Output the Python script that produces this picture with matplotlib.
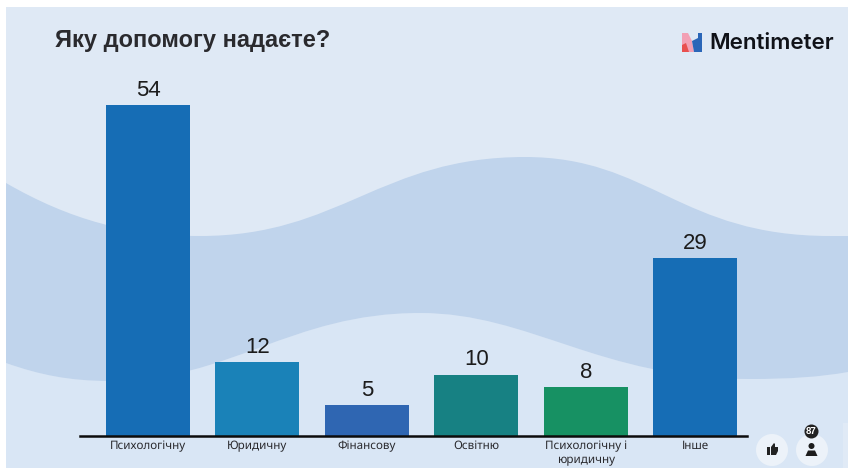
import numpy as np
import matplotlib
matplotlib.use('Agg')
import matplotlib.pyplot as plt
from matplotlib.path import Path
from matplotlib.patches import PathPatch, Polygon, Circle, Rectangle

plt.rcParams['font.family'] = ['Liberation Sans', 'DejaVu Sans']
plt.rcParams['text.hinting'] = 'no_autohint'

title = 'Яку допомогу надаєте?'
categories = ['Психологічну', 'Юридичну', 'Фінансову', 'Освітню', 'Психологічну і\nюридичну', 'Інше']
votes = [54, 12, 5, 10, 8, 29]
bar_colors = ['#166db5', '#1a82b8', '#2f66b2', '#178183', '#179163', '#166db5']
participants = '87'

# wave edges as bezier control points, in pixels
wave_top = [(6, 183), (70, 220), (130, 236), (200, 236), (340, 236), (380, 157), (525, 157),
            (650, 157), (680, 236), (830, 236), (836, 236), (842, 236), (848, 236)]
wave_bottom = [(6, 363), (40, 375), (70, 381), (110, 381), (230, 381), (290, 313), (420, 313),
               (530, 313), (600, 379), (750, 379), (790, 379), (820, 377), (848, 372)]

fig = plt.figure(figsize=(8.48, 4.68), dpi=100, facecolor='white')

# background layer uses pixel coordinates
bg = fig.add_axes([0, 0, 1, 1])
bg.set_xlim(0, 848)
bg.set_ylim(468, 0)
bg.axis('off')
bg.add_patch(Rectangle((6, 7), 842, 461, fc='#dfe9f5', ec='none'))

# area under the lower wave edge
low_verts = wave_bottom + [(848, 468), (6, 468), (6, 363)]
low_codes = [Path.MOVETO] + [Path.CURVE4] * (len(wave_bottom) - 1) + [Path.LINETO] * 3
bg.add_patch(PathPatch(Path(low_verts, low_codes), fc='#d9e6f5', ec='none'))

# the band between both edges
rev = wave_bottom[::-1]
band_verts = wave_top + rev + [wave_top[0]]
band_codes = ([Path.MOVETO] + [Path.CURVE4] * (len(wave_top) - 1) + [Path.LINETO]
              + [Path.CURVE4] * (len(rev) - 1) + [Path.LINETO])
bg.add_patch(PathPatch(Path(band_verts, band_codes), fc='#c0d4ec', ec='none'))

bg.add_patch(Rectangle((843, 423), 5, 45, fc='#e0eaf6', ec='none'))

bg.text(55, 41, title, fontsize=17, fontweight='bold', color='#2a2a2e', va='center', ha='left')

# logo
bg.add_patch(Polygon([(682, 33), (688, 33), (692, 41), (694, 52), (682, 52)], fc='#f2a0b4', ec='none'))
bg.add_patch(Polygon([(682, 45), (686, 43), (689, 52), (682, 52)], fc='#e8504f', ec='none'))
bg.add_patch(Polygon([(692, 41), (698, 38), (698, 33), (702, 33), (702, 52), (694, 52)], fc='#2a66b8', ec='none'))
bg.text(709, 43, 'Mentimeter', fontsize=16.1, family='Inter', fontweight='semibold', color='#101218', va='center', ha='left')

# reaction buttons
bg.add_patch(Circle((772, 450), 16, fc='#ecf2f9', ec='none'))
bg.add_patch(Circle((812, 450), 16, fc='#ecf2f9', ec='none'))
bg.add_patch(Rectangle((767, 447), 3, 8, fc='#222222', ec='none'))
bg.add_patch(Polygon([(771, 447), (774, 443), (775, 444), (775, 447), (778, 447), (778, 451), (776, 455), (771, 455)],
                     fc='#222222', ec='none'))
bg.add_patch(Circle((811.5, 446), 3, fc='#1c1c1c', ec='none'))
bg.add_patch(Polygon([(808, 450.5), (815, 450.5), (817.5, 456), (805.5, 456)], fc='#1c1c1c', ec='none'))
bg.add_patch(Circle((811.5, 431.5), 7, fc='#222222', ec='none'))
bg.text(811.5, 431.8, participants, fontsize=7, fontweight='bold', color='white', ha='center', va='center')

# bar chart on its own transparent axes
ax = fig.add_axes([80 / 848, (468 - 436) / 468, (747 - 80) / 848, (436 - 60) / 468])
ax.patch.set_alpha(0)
x = np.arange(len(categories))
bars = ax.bar(x, votes, width=0.768, color=bar_colors)
ax.bar_label(bars, labels=[str(v) for v in votes], padding=3, fontsize=16, color='#1c1c1c')
ax.set_xlim(-0.6216, 5.475)
ax.set_ylim(0, 61.3)
ax.set_yticks([])
ax.set_xticks(x)
ax.set_xticklabels(categories, family=['Noto Sans', 'DejaVu Sans'], fontsize=8.4, color='#2a2a2e', linespacing=1.2)
ax.tick_params(axis='x', length=0, pad=3.2)
for side in ['top', 'left', 'right']:
    ax.spines[side].set_visible(False)
ax.spines['bottom'].set_linewidth(1.8)
ax.spines['bottom'].set_color('#0c0c0c')

fig.savefig('out.png', dpi=100)
